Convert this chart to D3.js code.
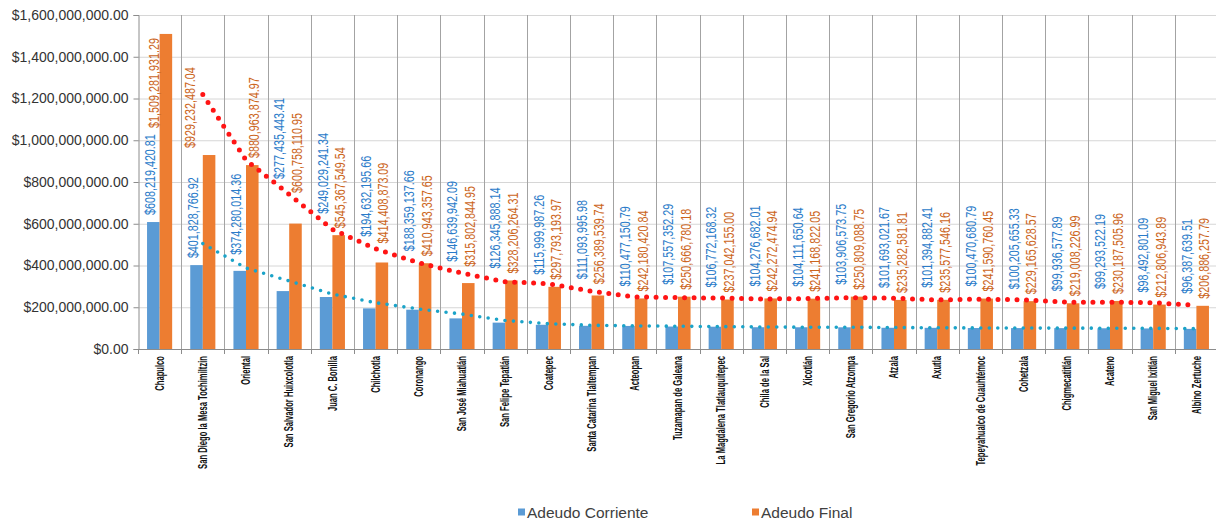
<!DOCTYPE html>
<html>
<head>
<meta charset="utf-8">
<script src="https://cdn.jsdelivr.net/npm/d3@7"></script>
<style>
  body { margin: 0; background: #fff; }
  svg { display: block; }
</style>
</head>
<body>
<svg id="chart" width="1216" height="521"></svg>
<script>
// Municipios ordered by current debt
const categories = [
  "Chapulco", "San Diego la Mesa Tochimiltzin", "Oriental", "San Salvador Huixcolotla",
  "Juan C. Bonilla", "Chilchotla", "Coronango", "San José Miahuatlán", "San Felipe Tepatlán",
  "Coatepec", "Santa Catarina Tlaltempan", "Acteopan", "Tuzamapan de Galeana",
  "La Magdalena Tlatlauquitepec", "Chila de la Sal", "Xicotlán", "San Gregorio Atzompa",
  "Atzala", "Axutla", "Tepeyahualco de Cuauhtémoc", "Cohetzala", "Chigmecatitlán",
  "Acateno", "San Miguel Ixitlán", "Albino Zertuche"
];

const adeudoCorriente = [
  608219420.81, 401828766.92, 374280014.36, 277435443.41, 249029241.34, 194632195.66,
  188359137.66, 146639942.09, 126345888.14, 115999987.26, 111093995.98, 110477150.79,
  107557352.29, 106772168.32, 104276682.01, 104111650.64, 103906573.75, 101693021.67,
  101394882.41, 100470680.79, 100205655.33, 99936577.89, 99293522.19, 98492801.09,
  96387639.51
];

const adeudoFinal = [
  1509281931.29, 929232487.04, 880963874.97, 600758110.95, 545367549.54, 414408873.09,
  410943357.65, 315802844.95, 328206264.31, 297793193.97, 256389539.74, 242180420.84,
  250666780.18, 237042155.00, 242272474.94, 241168822.05, 250809088.75, 235282581.81,
  235577546.16, 241590760.45, 229165628.57, 219008226.99, 230187505.96, 212806943.89,
  206886257.79
];

const seriesNames = ["Adeudo Corriente", "Adeudo Final"];
const yTicks = [0, 200000000, 400000000, 600000000, 800000000, 1000000000, 1200000000, 1400000000, 1600000000];

// ---- layout & style ----
const plot = { left: 138, right: 1218, top: 15, bottom: 349 };
const colors = {
  "Adeudo Corriente": { bar: "#5b9bd5", label: "#2a7bc9", trend: "#1ba3c8" },
  "Adeudo Final":     { bar: "#ed7d31", label: "#cc651c", trend: "#ff1414" }
};
const fontMain = "'Liberation Sans', Arial, sans-serif";
const valueSize = 14, narrow = 0.77;      // value labels: narrow face
const catSize = 12.5, catNarrow = 0.61;   // category labels: narrow bold face

const svg = d3.select("#chart");
const fmt = d3.format("$,.2f");

const x = d3.scaleBand().domain(categories).range([plot.left, plot.right]).padding(0);
const x1 = d3.scaleBand().domain(seriesNames).range([0, x.bandwidth()])
  .paddingInner(0).paddingOuter(0.72);
const y = d3.scaleLinear().domain([0, 1600000000]).range([plot.bottom, plot.top]);

const rows = categories.map((c, i) => ({
  cat: c,
  values: { "Adeudo Corriente": adeudoCorriente[i], "Adeudo Final": adeudoFinal[i] }
}));

// clip region for the plot area
svg.append("defs").append("clipPath").attr("id", "plotClip")
  .append("rect")
  .attr("x", plot.left).attr("y", plot.top - 3)
  .attr("width", plot.right - plot.left).attr("height", plot.bottom - plot.top + 3);

// ---- gridlines ----
const grid = svg.append("g");
grid.selectAll("line.h").data(yTicks.filter(d => d > 0)).join("line")
  .attr("class", "h")
  .attr("x1", plot.left).attr("x2", plot.right)
  .attr("y1", d => y(d) + 0.5).attr("y2", d => y(d) + 0.5)
  .attr("stroke", "#d6d6d6").attr("stroke-width", 1);

const boundaries = categories.map(c => x(c)).concat([plot.right]);
grid.selectAll("line.v").data(boundaries.slice(1)).join("line")
  .attr("class", "v")
  .attr("x1", d => Math.round(d) + 0.5).attr("x2", d => Math.round(d) + 0.5)
  .attr("y1", plot.top).attr("y2", plot.bottom)
  .attr("stroke", "#a3a3a3").attr("stroke-width", 1);

// ---- y axis ----
const yAxis = svg.append("g")
  .attr("transform", `translate(${plot.left + 0.5},0)`)
  .call(d3.axisLeft(y).tickValues(yTicks).tickFormat(fmt).tickSize(5).tickPadding(5));
yAxis.select(".domain").attr("stroke", "#8c8c8c");
yAxis.selectAll(".tick line").attr("stroke", "#8c8c8c");
yAxis.selectAll(".tick text")
  .attr("font-family", fontMain).attr("font-size", 14).attr("fill", "#333");

// ---- x axis ----
const xAxis = svg.append("g");
xAxis.append("line")
  .attr("x1", plot.left).attr("x2", plot.right)
  .attr("y1", plot.bottom + 0.5).attr("y2", plot.bottom + 0.5)
  .attr("stroke", "#8c8c8c");
xAxis.selectAll("line.t").data(boundaries).join("line")
  .attr("class", "t")
  .attr("x1", d => Math.round(d) + 0.5).attr("x2", d => Math.round(d) + 0.5)
  .attr("y1", plot.bottom).attr("y2", plot.bottom + 5)
  .attr("stroke", "#8c8c8c");
xAxis.selectAll("text").data(categories).join("text")
  .attr("transform", d => `translate(${x(d) + x.bandwidth() / 2},${plot.bottom + 7}) rotate(-90) scale(${catNarrow},1)`)
  .attr("text-anchor", "end")
  .attr("dominant-baseline", "central")
  .attr("font-family", fontMain).attr("font-weight", "bold").attr("font-size", catSize)
  .attr("fill", "#111")
  .text(d => d);

// ---- bars ----
const groups = svg.append("g").selectAll("g").data(rows).join("g")
  .attr("transform", d => `translate(${x(d.cat)},0)`);
groups.selectAll("rect").data(d => seriesNames.map(s => ({ s, v: d.values[s] }))).join("rect")
  .attr("x", d => x1(d.s))
  .attr("width", x1.bandwidth())
  .attr("y", d => y(d.v))
  .attr("height", d => y(0) - y(d.v))
  .attr("fill", d => colors[d.s].bar);

// ---- 2-period moving average trendlines ----
function movingAverage(vals) {
  const out = [];
  for (let i = 1; i < vals.length; i++) out.push({ i, v: (vals[i - 1] + vals[i]) / 2 });
  return out;
}
const centerX = i => x(categories[i]) + x.bandwidth() / 2;
const trends = {
  "Adeudo Corriente": movingAverage(adeudoCorriente),
  "Adeudo Final": movingAverage(adeudoFinal)
};
// y position of a trendline at an arbitrary x (null outside its span)
function trendAt(s, px) {
  const pts = trends[s];
  const xs = pts.map(p => centerX(p.i));
  if (px < xs[0] || px > xs[xs.length - 1]) return null;
  const f = d3.scaleLinear().domain(xs).range(pts.map(p => y(p.v)));
  return f(px);
}

// ---- value labels ----
const labelLayer = svg.append("g");
const labelCeil = plot.top + 23;
rows.forEach((r, i) => {
  const cx = x(r.cat);
  const blueC = cx + x1("Adeudo Corriente") + x1.bandwidth() / 2;
  const orC = cx + x1("Adeudo Final") + x1.bandwidth() / 2;

  const make = (s) => labelLayer.append("text")
    .attr("font-family", fontMain).attr("font-size", valueSize)
    .attr("fill", colors[s].label)
    .attr("text-anchor", "start")
    .attr("dominant-baseline", "central")
    .text(fmt(r.values[s]));

  // Adeudo Final label: above its bar, kept clear of the trendline and the top edge
  const tO = make("Adeudo Final");
  const lenO = tO.node().getComputedTextLength() * narrow;
  let oX = orC + 2;
  let oBottom = y(r.values["Adeudo Final"]) - 7;
  const trO = trendAt("Adeudo Final", oX);
  if (trO !== null && trO < oBottom + 4) {
    const avoid = trO - 8;
    if (avoid - lenO >= labelCeil) oBottom = avoid;
    else oX = blueC - 6;          // no room above the line: slide left of it
  }
  if (oBottom - lenO < labelCeil) {
    oBottom = labelCeil + lenO;
    oX = blueC + 1;
  }
  tO.attr("transform", `translate(${oX},${oBottom}) rotate(-90) scale(${narrow},1)`);

  // Adeudo Corriente label: above its bar if room, otherwise above the Final label's base
  const tB = make("Adeudo Corriente");
  const lenB = tB.node().getComputedTextLength() * narrow;
  const bX = blueC - 3;
  let bBottom = y(r.values["Adeudo Corriente"]) - 7;
  const trB = trendAt("Adeudo Corriente", bX);
  if (trB !== null) bBottom = Math.min(bBottom, trB - 8);
  const redY = trendAt("Adeudo Final", bX);
  const hitsRed = redY !== null && redY > bBottom - lenB - 4 && redY < bBottom + 4;
  if (bBottom - lenB <= oBottom + 5 || hitsRed) {
    bBottom = oBottom - 5;
    if (redY !== null) bBottom = Math.min(bBottom, redY - 8);
  }
  tB.attr("transform", `translate(${bX},${bBottom}) rotate(-90) scale(${narrow},1)`);
});

// trendlines drawn over bars and labels
const line = d3.line().x(p => centerX(p.i)).y(p => y(p.v));
const trendLayer = svg.append("g").attr("clip-path", "url(#plotClip)");
trendLayer.append("path")
  .attr("d", line(trends["Adeudo Corriente"]))
  .attr("fill", "none")
  .attr("stroke", colors["Adeudo Corriente"].trend)
  .attr("stroke-width", 3.6)
  .attr("stroke-linecap", "round")
  .attr("stroke-dasharray", "0 8.5");
trendLayer.append("path")
  .attr("d", line(trends["Adeudo Final"]))
  .attr("fill", "none")
  .attr("stroke", colors["Adeudo Final"].trend)
  .attr("stroke-width", 5)
  .attr("stroke-linecap", "round")
  .attr("stroke-dasharray", "0 9.5");

// ---- legend ----
const legendItems = [
  { s: "Adeudo Corriente", x: 518 },
  { s: "Adeudo Final", x: 752 }
];
const legend = svg.append("g").selectAll("g").data(legendItems).join("g")
  .attr("transform", d => `translate(${d.x},512)`);
legend.append("rect")
  .attr("x", 0).attr("y", -3.5).attr("width", 7).attr("height", 7)
  .attr("fill", d => colors[d.s].bar);
legend.append("text")
  .attr("x", 9).attr("y", 0)
  .attr("dominant-baseline", "central")
  .attr("font-family", fontMain).attr("font-size", 15.5)
  .attr("fill", "#404040")
  .text(d => d.s);
</script>
</body>
</html>
